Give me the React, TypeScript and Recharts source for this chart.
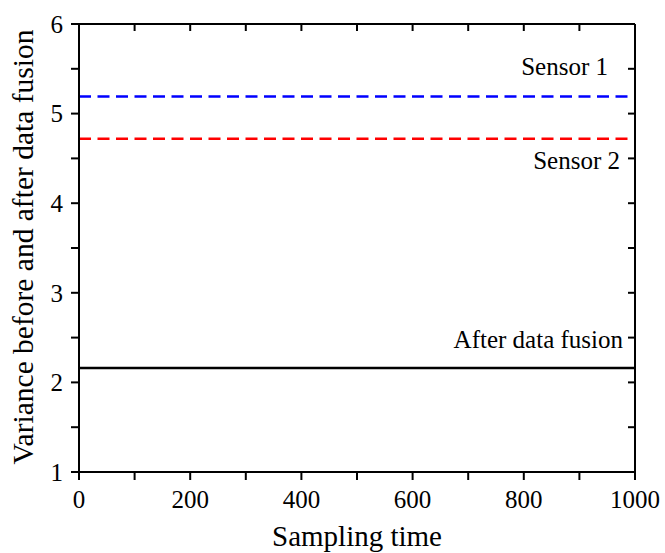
import React from 'react'
import { LineChart, Line, XAxis, YAxis } from 'recharts'

// sampling time span and the three (constant) variances
const samplingTime = [0, 1000]
const sensor1 = [5.19, 5.19]
const sensor2 = [4.72, 4.72]
const fused = [2.16, 2.16]

const xTicks = [0, 100, 200, 300, 400, 500, 600, 700, 800, 900, 1000]
const yTicks = [1, 1.5, 2, 2.5, 3, 3.5, 4, 4.5, 5, 5.5, 6]

const seriesNames = ['Sensor 1', 'Sensor 2', 'After data fusion']

const data = samplingTime.map((t, i) => ({ t, s1: sensor1[i], s2: sensor2[i], f: fused[i] }))

const FONT = 'Liberation Serif'

const Empty = () => <g />

const XTick = (props: any) => {
  const { x, y, payload } = props
  if (payload.value % 200 !== 0) return <g />
  return (
    <text x={x} y={y} dy="0.71em" textAnchor="middle" style={{ fontFamily: FONT, fontSize: 25 }} fill="#000">
      {payload.value}
    </text>
  )
}

const YTick = (props: any) => {
  const { x, y, payload } = props
  if (!Number.isInteger(payload.value)) return <g />
  return (
    <text x={x} y={y} dy="0.35em" textAnchor="end" style={{ fontFamily: FONT, fontSize: 25 }} fill="#000">
      {payload.value}
    </text>
  )
}

const XTitle = (props: any) => {
  const vb = props.viewBox
  return (
    <text x={vb.x + vb.width / 2} y={vb.y + 74} textAnchor="middle" style={{ fontFamily: FONT, fontSize: 29 }} fill="#000">
      Sampling time
    </text>
  )
}

const YTitle = (props: any) => {
  const vb = props.viewBox
  const cx = vb.x + 33
  const cy = vb.y + vb.height / 2 - 1
  return (
    <text x={cx} y={cy} transform={`rotate(-90 ${cx} ${cy})`} textAnchor="middle" style={{ fontFamily: FONT, fontSize: 29.5 }} fill="#000">
      Variance before and after data fusion
    </text>
  )
}

// name drawn near the right end of each line
const endLabel = (text: string, dx: number, dy: number) => (p: any) => {
  if (p.index !== samplingTime.length - 1) return <g key={p.index} />
  return (
    <text key={p.index} x={p.x - dx} y={p.y + dy} textAnchor="end" style={{ fontFamily: FONT, fontSize: 25 }} fill="#000">
      {text}
    </text>
  )
}

const axisStyle = { stroke: '#000', strokeWidth: 2 }

export default function App() {
  return (
    <div style={{ position: 'absolute', left: 0, top: 0, background: '#fff' }}>
      <LineChart width={665} height={553} data={data} margin={{ top: 24, right: 30, left: 0, bottom: 0 }}>
        <XAxis dataKey="t" type="number" domain={[0, 1000]} ticks={xTicks} interval={0} height={81}
          tickSize={8} tickMargin={10} tick={XTick} axisLine={axisStyle} tickLine={axisStyle} label={XTitle} />
        <XAxis xAxisId="top" dataKey="t" orientation="top" type="number" domain={[0, 1000]} ticks={xTicks}
          interval={0} mirror tickSize={7} tick={Empty} allowDataOverflow axisLine={axisStyle} tickLine={axisStyle} />
        <YAxis type="number" domain={[1, 6]} ticks={yTicks} interval={0} width={79}
          tickSize={8} tickMargin={8} tick={YTick} axisLine={axisStyle} tickLine={axisStyle} label={YTitle} />
        <YAxis yAxisId="right" orientation="right" type="number" domain={[1, 6]} ticks={yTicks} interval={0}
          mirror tickSize={7} tick={Empty} allowDataOverflow axisLine={axisStyle} tickLine={axisStyle} />
        <Line dataKey="s1" stroke="#0000ff" strokeWidth={2.5} strokeDasharray="12 6.5" dot={false}
          isAnimationActive={false} label={endLabel(seriesNames[0], 27, -22)} />
        <Line dataKey="s2" stroke="#ff0000" strokeWidth={2.5} strokeDasharray="12 6.5" dot={false}
          isAnimationActive={false} label={endLabel(seriesNames[1], 15, 30)} />
        <Line dataKey="f" stroke="#000" strokeWidth={2.5} dot={false}
          isAnimationActive={false} label={endLabel(seriesNames[2], 12, -20)} />
      </LineChart>
    </div>
  )
}
